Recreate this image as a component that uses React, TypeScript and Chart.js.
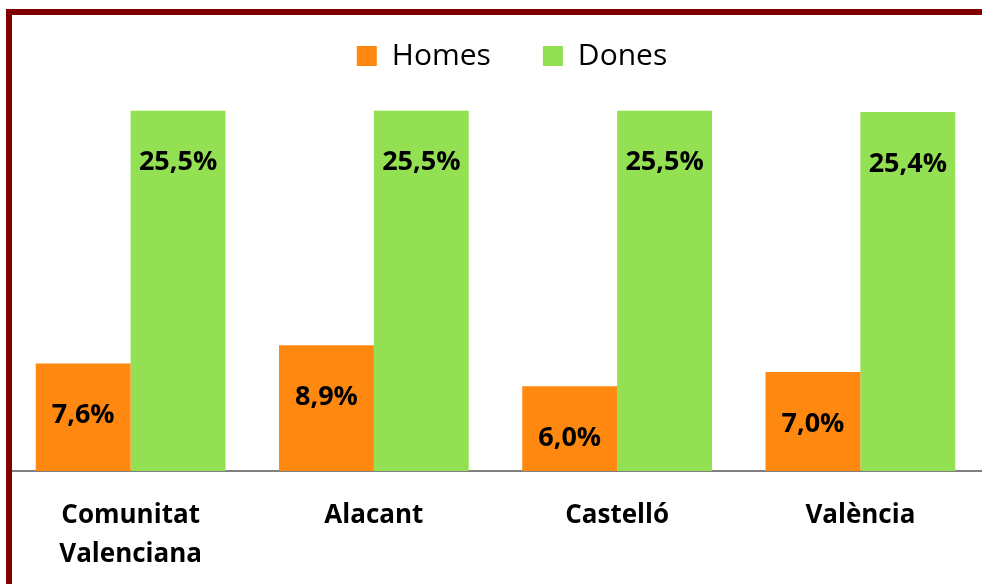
import React, { useEffect, useRef } from "react";
import { Chart, registerables } from "chart.js";

Chart.register(...registerables);

const categories: (string | string[])[] = [["Comunitat", "Valenciana"], "Alacant", "Castelló", "València"];
const seriesNames = ["Homes", "Dones"];
const homesValues = [7.6, 8.9, 6.0, 7.0];
const donesValues = [25.5, 25.5, 25.5, 25.4];

const ORANGE = "#FF8811";
const GREEN = "#93E053";
const FONT = "'Open Sans', 'DejaVu Sans', sans-serif";

const barLabelPlugin = {
  id: "barLabels",
  afterDatasetsDraw(chart: any) {
    const ctx = chart.ctx;
    ctx.save();
    ctx.font = `bold 27px ${FONT}`;
    ctx.fillStyle = "#000";
    ctx.textAlign = "center";
    ctx.textBaseline = "middle";
    chart.data.datasets.forEach((ds: any, di: number) => {
      const meta = chart.getDatasetMeta(di);
      meta.data.forEach((bar: any, i: number) => {
        const v = ds.data[i] as number;
        const txt = v.toFixed(1).replace(".", ",") + "%";
        ctx.fillText(txt, bar.x, bar.y + 52);
      });
    });
    ctx.restore();
  },
};

const legendShiftPlugin = {
  id: "legendShift",
  afterLayout(chart: any) {
    if (chart.legend) chart.legend.left += 33;
  },
};

export default function App() {
  const ref = useRef<HTMLCanvasElement>(null);
  useEffect(() => {
    document.body.style.margin = "0";
    const chart = new Chart(ref.current!, {
      type: "bar",
      data: {
        labels: categories,
        datasets: [
          { label: seriesNames[0], data: homesValues, backgroundColor: ORANGE, borderWidth: 0 },
          { label: seriesNames[1], data: donesValues, backgroundColor: GREEN, borderWidth: 0 },
        ],
      },
      options: {
        responsive: false,
        animation: false,
        layout: { padding: { left: 9, right: 0, top: -11, bottom: 0 } },
        datasets: { bar: { categoryPercentage: 0.78, barPercentage: 1.0 } },
        plugins: {
          legend: {
            position: "top",
            labels: {
              boxWidth: 20,
              boxHeight: 20,
              padding: 52,
              color: "#000",
              font: { family: FONT, size: 30, weight: "normal" },
            },
          },
          tooltip: { enabled: false },
        },
        scales: {
          x: {
            grid: { display: false, drawTicks: false },
            border: { display: true, color: "#808080", width: 2 },
            ticks: {
              padding: 25,
              color: "#000",
              font: { family: FONT, size: 26, weight: "bold", lineHeight: 1.5 },
              maxRotation: 0,
            },
            afterFit(scale: any) {
              scale.height = 113;
            },
          },
          y: {
            display: false,
            min: 0,
            max: 27.6,
          },
        },
      },
      plugins: [barLabelPlugin, legendShiftPlugin],
    });
    return () => chart.destroy();
  }, []);
  return (
    <div style={{ position: "fixed", left: 0, top: 0, width: 982, height: 584, overflow: "hidden", background: "#fff" }}>
      <canvas ref={ref} width={982} height={584} style={{ position: "absolute", left: 0, top: 0 }} />
      <div
        style={{
          position: "absolute",
          left: 6,
          top: 9,
          width: 2000,
          height: 2000,
          borderLeft: "6px solid #7F0000",
          borderTop: "6px solid #7F0000",
          pointerEvents: "none",
        }}
      />
    </div>
  );
}
